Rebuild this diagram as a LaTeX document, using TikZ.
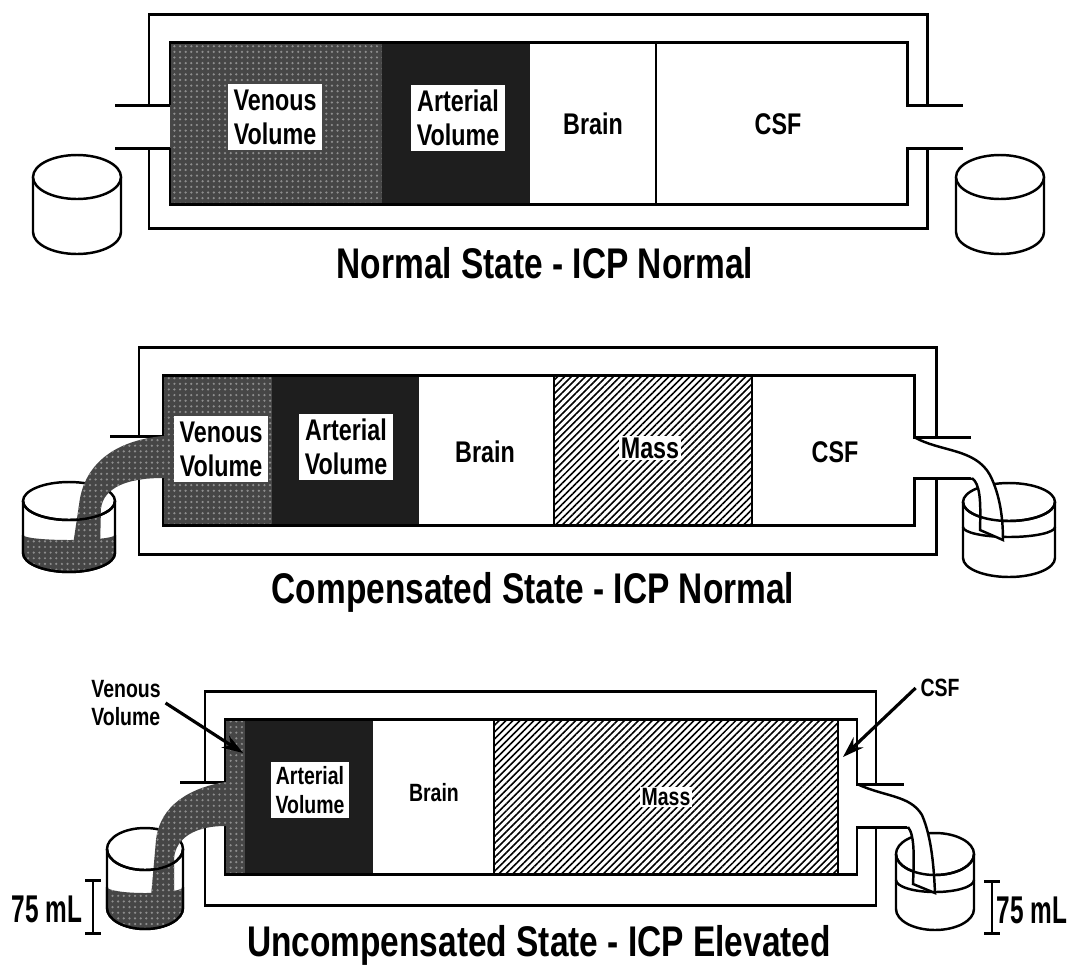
\documentclass[tikz,border=0pt]{standalone}
\usepackage{fontspec}
\setmainfont{Liberation Sans}[FakeStretch=0.78]
\newfontfamily\narrowfont{Liberation Sans}[FakeStretch=0.63]
\usetikzlibrary{patterns.meta}
\usetikzlibrary{arrows.meta}

\definecolor{venousgray}{HTML}{464646}
\definecolor{dotgray}{HTML}{8E8E8E}
\definecolor{arterialgray}{HTML}{1E1E1E}

\tikzset{
    pics/bucket/.style args={#1/#2/#3}{code={
        \draw[cup,fill=white] (-#1,0) -- (-#1,#3) arc[start angle=180,end angle=0,x radius=#1,y radius=#2] -- (#1,0);
        \draw[cup,fill=white] (0,0) ellipse[x radius=#1,y radius=#2];
    }}
}

\begin{document}
\begin{tikzpicture}[x=0.01cm,y=-0.01cm,
        wall/.style={line width=0.85pt},
        cup/.style={line width=0.7pt},
        venousfill/.style={fill=venousgray,postaction={pattern={Dots[distance=1.6pt,radius=0.35pt]},pattern color=dotgray}},
        arterialfill/.style={fill=arterialgray},
        massfill/.style={pattern={Lines[angle=45,distance=1.4pt,line width=0.45pt]}},
        lbl/.style={font=\bfseries\fontsize{8.5}{9.6}\selectfont,align=center,inner sep=1.5pt},
        lblbox/.style={lbl,fill=white},
        smalllbl/.style={font=\bfseries\fontsize{7.1}{8.2}\selectfont,align=center,inner sep=1.2pt},
        statetitle/.style={font=\bfseries\fontsize{12.2}{14}\selectfont},
        volume/.style={font=\narrowfont\bfseries\fontsize{11}{13}\selectfont,inner sep=0pt},
        volbar/.style={line width=0.8pt,{Bar[width=4.5pt]}-{Bar[width=4.5pt]}},
        pointer/.style={line width=0.9pt,-{Stealth[length=6pt,width=4pt]}}]

    \useasboundingbox (0,0) rectangle (1075,969);

    % Normal state
    \fill[venousfill] (170,42) rectangle (382,204);
    \fill[arterialfill] (382,42) rectangle (530,204);
    \draw[wall] (656,42) -- (656,204);
    \draw[wall] (170,105) -- (170,42) -- (907,42) -- (907,105) -- (963,105);
    \draw[wall] (963,148) -- (907,148) -- (907,204) -- (170,204) -- (170,148);
    \draw[wall] (115,105) -- (170,105) (115,148) -- (170,148);
    \draw[wall] (149,105) -- (149,14) -- (927,14) -- (927,105)
                (927,148) -- (927,228) -- (149,228) -- (149,148);

    \node[lblbox] (venous1) at (275,117) {Venous\\Volume};
    \node[lblbox] (arterial1) at (458,118) {Arterial\\Volume};
    \node[lbl] (brain1) at (593,124) {Brain};
    \node[lbl] (csf1) at (778,124) {CSF};

    \pic at (77,177) {bucket=44/22/55};
    \pic at (1000,177) {bucket=44/22/55};

    \node[statetitle] (title1) at (545,263) {Normal State - ICP Normal};

    % Compensated state
    \fill[venousfill] (163,375) rectangle (272,525);
    \fill[arterialfill] (272,375) rectangle (419,525);
    \fill[massfill] (554,375) rectangle (752,525);
    \draw[wall] (554,375) -- (554,525) (752,375) -- (752,525);
    \draw[wall] (163,436) -- (163,375) -- (914,375) -- (914,437) -- (971,437);
    \draw[wall] (975,478) -- (914,478) -- (914,525) -- (163,525) -- (163,478);
    \draw[wall] (110,436) -- (163,436);
    \draw[wall] (139,436) -- (139,347) -- (936,347) -- (936,437)
                (936,478) -- (936,554) -- (139,554) -- (139,478);

    \node[lblbox] (venous2) at (221,449) {Venous\\Volume};
    \node[lblbox] (arterial2) at (346,447) {Arterial\\Volume};
    \node[lbl] (brain2) at (485,452) {Brain};
    \node[lbl,fill=white,inner sep=0.5pt] (mass2) at (650,448) {Mass};
    \node[lbl] (csf2) at (835,452) {CSF};

    % venous blood running out on the left
    \pic at (69,501) {bucket=46/19/52};
    \fill[venousfill] (23,535) arc[start angle=180,end angle=0,x radius=46,y radius=5]
        -- (115,553) arc[start angle=0,end angle=180,x radius=46,y radius=19] -- cycle;
    \draw[cup] (23,535) -- (23,553) arc[start angle=180,end angle=0,x radius=46,y radius=19] -- (115,535);
    \fill[venousfill] (163,436) .. controls (120,440) and (84,460) .. (79,505) -- (73,545) -- (100,548)
        -- (101,508) .. controls (104,488) and (126,478) .. (163,478) -- cycle;
    \draw[cup] (23,501) arc[start angle=180,end angle=0,x radius=46,y radius=19];

    % CSF running out on the right
    \pic at (1009,502) {bucket=46/19/56};
    \draw[cup] (963,527) arc[start angle=180,end angle=0,x radius=46,y radius=10];
    \draw[cup,fill=white] (914,437) .. controls (940,452) and (975,448) .. (990,475)
        .. controls (1000,495) and (1003,518) .. (1003,540) -- (980,530)
        .. controls (981,500) and (980,484) .. (972,478);
    \draw[cup] (963,502) arc[start angle=180,end angle=0,x radius=46,y radius=19];

    \node[statetitle] (title2) at (533,592) {Compensated State - ICP Normal};

    % Uncompensated state
    \fill[venousfill] (225,719) rectangle (245,874);
    \fill[arterialfill] (245,719) rectangle (373,874);
    \fill[massfill] (494,719) rectangle (838,874);
    \draw[wall] (494,719) -- (494,874) (838,719) -- (838,874);
    \draw[wall] (225,782) -- (225,719) -- (857,719) -- (857,784) -- (904,784);
    \draw[wall] (910,827) -- (857,827) -- (857,874) -- (225,874) -- (225,826);
    \draw[wall] (180,782) -- (225,782);
    \draw[wall] (205,782) -- (205,691) -- (876,691) -- (876,784)
                (876,827) -- (876,905) -- (205,905) -- (205,826);

    \node[smalllbl,fill=white] (arterial3) at (310,790) {Arterial\\Volume};
    \node[smalllbl] (brain3) at (434,793) {Brain};
    \node[smalllbl,fill=white,inner sep=0.5pt] (mass3) at (666,797) {Mass};

    \node[smalllbl,align=left] (venous3) at (126,703) {Venous\\Volume};
    \coordinate (venoustip) at (243,753);
    \draw[pointer] (venous3.east) -- (venoustip);
    \node[smalllbl] (csf3) at (940,688) {CSF};
    \coordinate (csftip) at (843,757);
    \draw[pointer] (csf3.west) -- (csftip);

    \pic at (145,849) {bucket=38/21/59};
    \fill[venousfill] (107,887) arc[start angle=180,end angle=0,x radius=38,y radius=6]
        -- (183,908) arc[start angle=0,end angle=180,x radius=38,y radius=21] -- cycle;
    \draw[cup] (107,887) -- (107,908) arc[start angle=180,end angle=0,x radius=38,y radius=21] -- (183,887);
    \fill[venousfill] (225,782) .. controls (190,788) and (160,805) .. (156,840) -- (151,897) -- (174,900)
        -- (174,858) .. controls (176,838) and (195,826) .. (225,826) -- cycle;
    \draw[cup] (107,849) arc[start angle=180,end angle=0,x radius=38,y radius=21];

    \pic at (935,854) {bucket=39/21/55};
    \draw[cup] (896,880) arc[start angle=180,end angle=0,x radius=39,y radius=12];
    \draw[cup,fill=white] (857,784) .. controls (885,797) and (910,795) .. (922,815)
        .. controls (932,838) and (934,870) .. (935,893) -- (913,884)
        .. controls (914,860) and (915,835) .. (908,827);
    \draw[cup] (896,854) arc[start angle=180,end angle=0,x radius=39,y radius=21];

    % 75 mL marks
    \coordinate (barltop) at (93,879);
    \coordinate (barlbot) at (93,935);
    \draw[volbar] (barltop) -- (barlbot);
    \node[volume] (voll) at (47,909) {75 mL};
    \coordinate (barrtop) at (992,880);
    \coordinate (barrbot) at (992,935);
    \draw[volbar] (barrtop) -- (barrbot);
    \node[volume] (volr) at (1032,910) {75 mL};

    \node[statetitle] (title3) at (539,945) {Uncompensated State - ICP Elevated};

\end{tikzpicture}
\end{document}
